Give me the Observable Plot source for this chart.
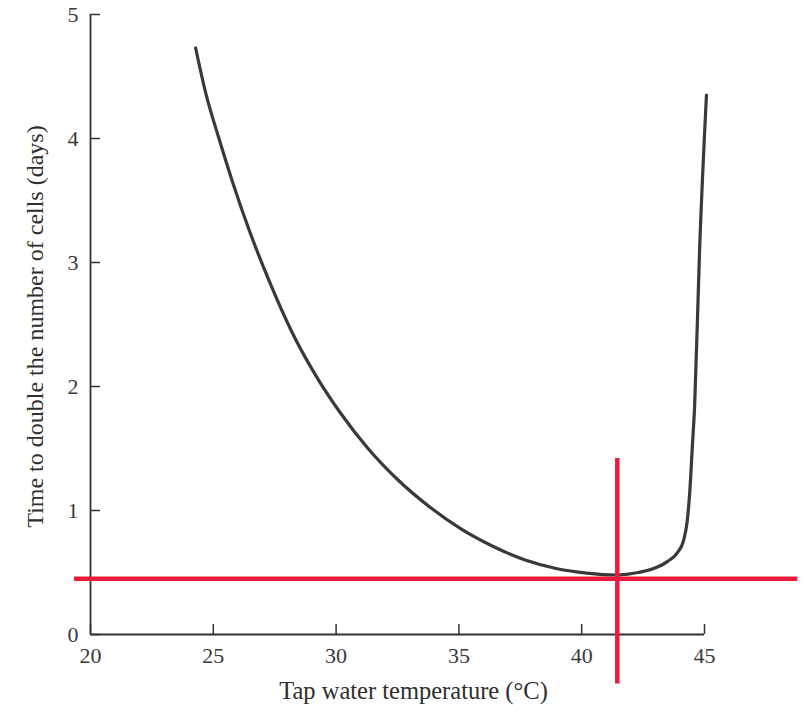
<!DOCTYPE html>
<html>
<head>
<meta charset="utf-8">
<script src="https://cdn.jsdelivr.net/npm/d3@7"></script>
<script src="https://cdn.jsdelivr.net/npm/@observablehq/plot@0.6"></script>
<style>
  html, body { margin: 0; padding: 0; background: #fff; }
</style>
</head>
<body>
<div id="chart"></div>
<script>
// Tap water temperature (°C)
const temperature = [24.28, 24.7, 25.2, 25.8, 26.5, 27.3, 28.2, 29.2, 30.2, 31.3, 32.5, 33.8, 35.1, 36.4, 37.7, 39.0, 40.2, 41.4, 42.3, 42.9, 43.5, 43.9, 44.15, 44.3, 44.4, 44.5, 44.6, 44.8, 45.08];
// Time to double the number of cells (days)
const doublingDays = [4.73, 4.36, 4.02, 3.64, 3.24, 2.84, 2.44, 2.08, 1.78, 1.50, 1.25, 1.03, 0.85, 0.71, 0.60, 0.53, 0.495, 0.48, 0.50, 0.53, 0.59, 0.66, 0.76, 0.92, 1.15, 1.50, 1.85, 3.10, 4.35];

const xTicks = [20, 25, 30, 35, 40, 45];
const yTicks = [0, 1, 2, 3, 4, 5];

// red crosshair annotation (optimum temperature / minimum doubling time)
const markerTemp = 41.45;
const markerDays = 0.45;
const markerTempSpan = [19.35, 48.8];
const markerDaysSpan = [-0.40, 1.42];

const xLabel = "Tap water temperature (°C)";
const yLabel = "Time to double the number of cells (days)";

const curve = temperature.map((t, i) => ({t, d: doublingDays[i]}));

const ink = "#333";
const red = "#ec1a3d";
const blank = () => "";

const chart = Plot.plot({
  width: 807,
  height: 713,
  marginLeft: 90,
  marginRight: 103,
  marginTop: 14,
  marginBottom: 79,
  style: {fontFamily: "'Liberation Serif', serif", fontSize: "22px", color: ink, background: "#fff"},
  x: {domain: [20, 45]},
  y: {domain: [0, 5]},
  marks: [
    Plot.ruleY([0], {stroke: ink, strokeWidth: 1.8}),
    Plot.ruleX([20], {stroke: ink, strokeWidth: 1.8}),
    // inward tick marks
    Plot.axisX(xTicks, {anchor: "bottom", tickSize: 10, dy: -10, tickFormat: blank, strokeWidth: 1.5, label: null}),
    Plot.axisY(yTicks, {anchor: "left", tickSize: 10, dx: 10, tickFormat: blank, strokeWidth: 1.5, label: null}),
    // tick labels
    Plot.axisX(xTicks, {anchor: "bottom", tickSize: 0, tickPadding: 13, tickFormat: d => String(d), label: null, fontSize: 22, fill: "#3a3a3a"}),
    Plot.axisY(yTicks, {anchor: "left", tickSize: 0, tickPadding: 12, tickFormat: d => String(d), label: null, fontSize: 22, fill: "#3a3a3a"}),
    Plot.line(curve, {x: "t", y: "d", curve: "monotone-x", stroke: "#3a3838", strokeWidth: 3.2, strokeLinecap: "round"}),
    Plot.ruleY([markerDays], {x1: markerTempSpan[0], x2: markerTempSpan[1], stroke: red, strokeWidth: 4.5}),
    Plot.ruleX([markerTemp], {y1: markerDaysSpan[0], y2: markerDaysSpan[1], stroke: red, strokeWidth: 4.5}),
    Plot.text([xLabel], {frameAnchor: "bottom", dy: 64, dx: 16, fontSize: 24.5, fill: "#2e2e2e"}),
    Plot.text([yLabel], {frameAnchor: "left", textAnchor: "middle", rotate: -90, dx: -55, dy: 2, fontSize: 24, fill: "#2e2e2e"})
  ]
});

document.getElementById("chart").appendChild(chart);
</script>
</body>
</html>
